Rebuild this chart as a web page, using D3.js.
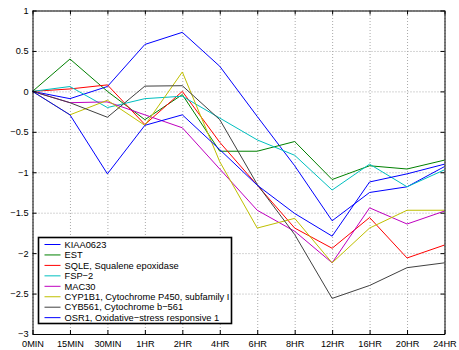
<!DOCTYPE html>
<html lang="en">
<head>
    <meta charset="UTF-8">
    <title>Gene expression time course</title>
    <style>
        body {
            margin: 0;
            background-color: #fff;
        }

        svg text {
            font-family: 'Liberation Sans', Arial, sans-serif;
            font-size: 9.2px;
            fill: #000;
        }

        .legend text {
            font-size: 9.3px;
        }

        .grid line {
            stroke: #aaa;
            stroke-dasharray: 1, 2;
        }
    </style>
</head>
<body>

<div id="chart"></div>

<script src="https://d3js.org/d3.v7.min.js"></script>
<script>
    // Time points (x categories)
    const times = ["0MIN", "15MIN", "30MIN", "1HR", "2HR", "4HR", "6HR", "8HR", "12HR", "16HR", "20HR", "24HR"];

    // Gene names, in legend order
    const genes = [
        "KIAA0623",
        "EST",
        "SQLE, Squalene epoxidase",
        "FSP\u22122",
        "MAC30",
        "CYP1B1, Cytochrome P450, subfamily I",
        "CYB561, Cytochrome b\u2212561",
        "OSR1, Oxidative\u2212stress responsive 1"
    ];

    // Values (log ratio)
    const kiaa0623 = [0, -0.09, 0.06, 0.58, 0.73, 0.31, -0.31, -0.92, -1.60, -1.25, -1.18, -0.93];
    const est      = [0, 0.40, 0.00, -0.35, -0.04, -0.74, -0.74, -0.62, -1.09, -0.92, -0.96, -0.85];
    const sqle     = [0, 0.03, 0.08, -0.41, 0.00, -0.63, -1.16, -1.69, -1.94, -1.56, -2.06, -1.90];
    const fsp2     = [0, 0.06, -0.20, -0.09, -0.06, -0.33, -0.60, -0.79, -1.22, -0.90, -1.18, -0.97];
    const mac30    = [0, -0.14, -0.13, -0.29, -0.45, -0.96, -1.47, -1.73, -2.12, -1.44, -1.64, -1.48];
    const cyp1b1   = [0, -0.29, -0.11, -0.42, 0.24, -0.87, -1.69, -1.57, -2.12, -1.69, -1.47, -1.47];
    const cyb561   = [0, -0.14, -0.32, 0.065, 0.07, -0.35, -1.15, -1.77, -2.56, -2.40, -2.18, -2.12];
    const osr1     = [0, -0.29, -1.02, -0.42, -0.29, -0.72, -1.16, -1.51, -1.79, -1.12, -1.02, -0.90];

    const series = [kiaa0623, est, sqle, fsp2, mac30, cyp1b1, cyb561, osr1];

    // old matlab colour order, wraps back to blue for the 8th line
    const colors = ["#0000ff", "#008000", "#ff0000", "#00bfbf", "#bf00bf", "#bfbf00", "#404040", "#0000ff"];

    const yTicks = [1, 0.5, 0, -0.5, -1, -1.5, -2, -2.5, -3];

    const width = 459;
    const height = 350;
    const margin = { left: 32.5, right: 14.5, top: 10.5, bottom: 16 };

    const svg = d3.select("#chart")
        .append("svg")
        .attr("width", width)
        .attr("height", height);

    const x = d3.scalePoint()
        .domain(times)
        .range([margin.left, width - margin.right]);

    const y = d3.scaleLinear()
        .domain([-3, 1])
        .range([height - margin.bottom, margin.top]);

    const fmt = d => d3.format("")(d).replace("-", "\u2212");

    // Dotted grid
    svg.append("g")
        .attr("class", "grid")
        .attr("transform", `translate(0,${height - margin.bottom})`)
        .call(d3.axisBottom(x).tickSize(-(y(-3) - y(1))).tickFormat(""))
        .call(g => g.select(".domain").remove());

    svg.append("g")
        .attr("class", "grid")
        .attr("transform", `translate(${margin.left},0)`)
        .call(d3.axisLeft(y).tickValues(yTicks).tickSize(-(x.range()[1] - x.range()[0])).tickFormat(""))
        .call(g => g.select(".domain").remove());

    // Lines
    const line = d3.line()
        .x((d, i) => x(times[i]))
        .y(d => y(d));

    svg.append("g")
        .selectAll("path")
        .data(series)
        .enter().append("path")
        .attr("fill", "none")
        .attr("stroke", (d, i) => colors[i])
        .attr("stroke-width", 1)
        .attr("d", line);

    // Axes with inward ticks on all four sides
    const tick = 4;
    const xAxis = svg.append("g")
        .attr("transform", `translate(0,${height - margin.bottom})`)
        .call(d3.axisBottom(x).tickSizeInner(-tick).tickSizeOuter(0).tickPadding(5));
    xAxis.selectAll("text").attr("dy", "0.9em");

    svg.append("g")
        .attr("transform", `translate(0,${margin.top})`)
        .call(d3.axisTop(x).tickSizeInner(-tick).tickSizeOuter(0).tickFormat(""));

    svg.append("g")
        .attr("transform", `translate(${margin.left},0)`)
        .call(d3.axisLeft(y).tickValues(yTicks).tickSizeInner(-tick).tickSizeOuter(0).tickPadding(4).tickFormat(fmt));

    svg.append("g")
        .attr("transform", `translate(${width - margin.right},0)`)
        .call(d3.axisRight(y).tickValues(yTicks).tickSizeInner(-tick).tickSizeOuter(0).tickFormat(""));

    svg.selectAll(".domain, .tick line").attr("stroke", "#000");
    svg.selectAll(".grid .tick line").attr("stroke", "#aaa");

    // Legend
    const lgX = 38.5, lgY = 237.5, lgW = 193, lgH = 86;
    const legend = svg.append("g").attr("class", "legend");

    legend.append("rect")
        .attr("x", lgX)
        .attr("y", lgY)
        .attr("width", lgW)
        .attr("height", lgH)
        .attr("fill", "#fff")
        .attr("stroke", "#000")
        .attr("stroke-width", 1.6);

    const entry = legend.selectAll("g.entry")
        .data(genes)
        .enter().append("g")
        .attr("class", "entry")
        .attr("transform", (d, i) => `translate(${lgX}, ${lgY + 7 + i * 10.45})`);

    entry.append("line")
        .attr("x1", 6)
        .attr("x2", 22)
        .attr("stroke", (d, i) => colors[i])
        .attr("stroke-width", 1);

    entry.append("text")
        .attr("x", 26)
        .attr("dy", "0.35em")
        .text(d => d);
</script>

</body>
</html>
